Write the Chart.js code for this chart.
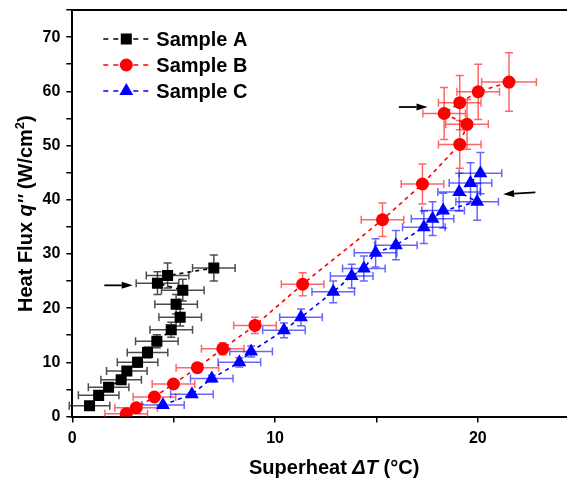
<!DOCTYPE html>
<html>
<head>
<meta charset="utf-8">
<script src="https://cdn.jsdelivr.net/npm/chart.js@4.4.1/dist/chart.umd.min.js"></script>
<style>
  html, body { margin: 0; padding: 0; background: #fff; }
  #wrap { width: 567px; height: 479px; }
</style>
</head>
<body>
<div id="wrap"><canvas id="boilingChart" width="567" height="479"></canvas></div>
<script>
// Sample A (black squares)
const xA = [0.85, 1.3, 1.79, 2.41, 2.69, 3.22, 3.71, 4.17, 4.88, 5.32, 5.12, 5.45, 4.2, 4.7, 6.98];
const yA = [2.0, 3.9, 5.4, 6.8, 8.4, 10.0, 11.8, 13.9, 16.0, 18.3, 20.7, 23.3, 24.6, 26.0, 27.4];
const xErrA = [1.0, 1.0, 1.0, 1.0, 1.0, 1.0, 1.0, 1.05, 1.05, 1.05, 1.05, 1.05, 1.05, 1.05, 1.05];
const yErrA = [0.2, 0.35, 0.5, 0.6, 0.75, 0.9, 1.0, 1.2, 1.4, 1.6, 1.8, 2.0, 2.1, 2.3, 2.4];

// Sample B (red circles)
const xB = [2.66, 3.15, 4.05, 4.99, 6.17, 7.42, 9.01, 11.36, 15.3, 17.27, 19.11, 19.47, 18.34, 19.11, 20.02, 21.54];
const yB = [0.5, 1.6, 3.6, 6.0, 9.0, 12.5, 16.8, 24.4, 36.3, 42.9, 50.2, 53.9, 55.9, 57.9, 59.9, 61.7];
const xErrB = [1.05, 1.05, 1.05, 1.05, 1.05, 1.05, 1.05, 1.05, 1.05, 1.05, 1.05, 1.05, 1.05, 1.05, 1.05, 1.35];
const yErrB = [0.1, 0.2, 0.35, 0.5, 0.8, 1.1, 1.5, 2.1, 3.1, 3.7, 4.4, 4.6, 4.8, 5.0, 5.1, 5.4];

// Sample C (blue triangles)
const xC = [4.47, 5.9, 6.88, 8.24, 8.82, 10.44, 11.28, 12.87, 13.78, 14.38, 14.96, 15.96, 17.34, 17.77, 18.29, 19.97, 19.08, 19.64, 20.13];
const yC = [2.1, 4.1, 7.0, 10.0, 12.0, 15.9, 18.3, 23.0, 25.9, 27.3, 30.2, 31.6, 34.9, 36.5, 38.0, 39.6, 41.4, 43.1, 44.9];
const xErrC = [1.05, 1.05, 1.05, 1.05, 1.05, 1.05, 1.05, 1.05, 1.05, 1.05, 1.05, 1.05, 1.05, 1.05, 1.05, 1.05, 1.05, 1.05, 1.05];
const yErrC = [0.2, 0.35, 0.6, 0.85, 1.0, 1.35, 1.55, 2.0, 2.2, 2.3, 2.6, 2.7, 3.0, 3.1, 3.2, 3.4, 3.5, 3.7, 3.8];

const seriesNames = ['Sample A', 'Sample B', 'Sample C'];

// axis ranges and ticks
const xMin = 0, xMax = 24.4, xStep = 5;
const yMin = 0, yMax = 75, yStep = 5;
const xLabelEvery = 10, yLabelEvery = 10;

// annotation arrows [fromX, fromY, toX, toY] in data units
const arrows = [
    [1.58, 24.2, 2.98, 24.2],
    [16.11, 57.1, 17.52, 57.1],
    [22.84, 41.37, 21.25, 41.0]
];

const FONT = "'Liberation Sans', Arial, sans-serif";

const toPoints = (xs, ys) => xs.map((x, i) => ({ x: x, y: ys[i] }));

const makeSet = (label, xs, ys, xe, ye, color, errColor, style, radius) => ({
    label: label,
    data: toPoints(xs, ys),
    xErr: xe,
    yErr: ye,
    errColor: errColor,
    showLine: true,
    borderColor: color,
    backgroundColor: color,
    borderWidth: 1.6,
    borderDash: [4, 4],
    pointStyle: style,
    pointRadius: radius,
    pointHoverRadius: radius,
    pointBorderWidth: 0,
    tension: 0
});

// error bars drawn under the markers
const errorBars = {
    id: 'errorBars',
    beforeDatasetsDraw(chart) {
        const ctx = chart.ctx;
        const xs = chart.scales.x, ys = chart.scales.y;
        const cap = 4;
        ctx.save();
        ctx.lineWidth = 1.5;
        chart.data.datasets.forEach((ds) => {
            ctx.strokeStyle = ds.errColor;
            ds.data.forEach((p, i) => {
                const px = xs.getPixelForValue(p.x);
                const py = ys.getPixelForValue(p.y);
                const x1 = xs.getPixelForValue(p.x - ds.xErr[i]);
                const x2 = xs.getPixelForValue(p.x + ds.xErr[i]);
                const y1 = ys.getPixelForValue(p.y - ds.yErr[i]);
                const y2 = ys.getPixelForValue(p.y + ds.yErr[i]);
                ctx.beginPath();
                ctx.moveTo(x1, py); ctx.lineTo(x2, py);
                ctx.moveTo(x1, py - cap); ctx.lineTo(x1, py + cap);
                ctx.moveTo(x2, py - cap); ctx.lineTo(x2, py + cap);
                ctx.moveTo(px, y1); ctx.lineTo(px, y2);
                ctx.moveTo(px - cap, y1); ctx.lineTo(px + cap, y1);
                ctx.moveTo(px - cap, y2); ctx.lineTo(px + cap, y2);
                ctx.stroke();
            });
        });
        ctx.restore();
    }
};

// top frame, arrows, legend and axis titles
const decorations = {
    id: 'decorations',
    afterDraw(chart) {
        const ctx = chart.ctx;
        const area = chart.chartArea;
        const xs = chart.scales.x, ys = chart.scales.y;
        ctx.save();

        // top frame line
        ctx.strokeStyle = '#000';
        ctx.lineWidth = 2;
        ctx.beginPath();
        ctx.moveTo(area.left - 1, area.top);
        ctx.lineTo(area.right, area.top);
        ctx.stroke();

        // arrows
        arrows.forEach((a) => {
            const x1 = xs.getPixelForValue(a[0]), y1 = ys.getPixelForValue(a[1]);
            const x2 = xs.getPixelForValue(a[2]), y2 = ys.getPixelForValue(a[3]);
            const ang = Math.atan2(y2 - y1, x2 - x1);
            const hl = 11, hw = 3.5;
            const bx = x2 - Math.cos(ang) * hl, by = y2 - Math.sin(ang) * hl;
            ctx.strokeStyle = '#000';
            ctx.fillStyle = '#000';
            ctx.lineWidth = 1.8;
            ctx.beginPath();
            ctx.moveTo(x1, y1);
            ctx.lineTo(bx, by);
            ctx.stroke();
            ctx.beginPath();
            ctx.moveTo(x2, y2);
            ctx.lineTo(bx - Math.sin(ang) * hw, by + Math.cos(ang) * hw);
            ctx.lineTo(bx + Math.sin(ang) * hw, by - Math.cos(ang) * hw);
            ctx.closePath();
            ctx.fill();
        });

        // legend
        const lx = area.left + 31, ly = area.top + 29, rowH = 26;
        chart.data.datasets.forEach((ds, i) => {
            const y = ly + i * rowH;
            ctx.strokeStyle = ds.borderColor;
            ctx.lineWidth = 1.6;
            ctx.setLineDash([5, 5]);
            ctx.beginPath();
            ctx.moveTo(lx, y);
            ctx.lineTo(lx + 46, y);
            ctx.stroke();
            ctx.setLineDash([]);
            ctx.fillStyle = ds.backgroundColor;
            Chart.helpers.drawPoint(ctx, { pointStyle: ds.pointStyle, radius: ds.pointRadius, rotation: 0, borderWidth: 0 }, lx + 23, y);
            ctx.fillStyle = '#000';
            ctx.font = 'bold 20px ' + FONT;
            ctx.textBaseline = 'middle';
            ctx.textAlign = 'left';
            ctx.fillText(ds.label, lx + 53, y + 1);
        });

        // x axis title: Superheat ΔT (°C)
        ctx.fillStyle = '#000';
        ctx.textBaseline = 'alphabetic';
        ctx.textAlign = 'left';
        const xParts = [['Superheat ', 'bold'], ['\u0394T', 'italic bold'], [' (\u00b0C)', 'bold']];
        let tx = 249;
        const tyBase = 474;
        xParts.forEach((p) => {
            ctx.font = p[1] + ' 20px ' + FONT;
            ctx.fillText(p[0], tx, tyBase);
            tx += ctx.measureText(p[0]).width;
        });

        // y axis title: Heat Flux q'' (W/cm²)
        ctx.translate(32, 312);
        ctx.rotate(-Math.PI / 2);
        const yParts = [['Heat Flux ', 'bold', 20, 0], ["q''", 'italic bold', 20, 0], [' (W/cm', 'bold', 20, 0], ['2', 'bold', 13, -8], [')', 'bold', 20, 0]];
        let ty = 0;
        yParts.forEach((p) => {
            ctx.font = p[1] + ' ' + p[2] + 'px ' + FONT;
            ctx.fillText(p[0], ty, p[3]);
            ty += ctx.measureText(p[0]).width;
        });
        ctx.restore();
    }
};

const keepSteps = (step) => (scale) => {
    scale.ticks = scale.ticks.filter((t) => Math.abs(t.value / step - Math.round(t.value / step)) < 1e-6);
};

new Chart(document.getElementById('boilingChart').getContext('2d'), {
    type: 'scatter',
    plugins: [errorBars, decorations],
    data: {
        datasets: [
            makeSet(seriesNames[0], xA, yA, xErrA, yErrA, '#000000', 'rgba(0, 0, 0, 0.7)', 'rect', 7.8),
            makeSet(seriesNames[1], xB, yB, xErrB, yErrB, '#ff0000', 'rgba(255, 0, 0, 0.6)', 'circle', 6.5),
            makeSet(seriesNames[2], xC, yC, xErrC, yErrC, '#0000ff', 'rgba(0, 0, 255, 0.6)', 'triangle', 8)
        ]
    },
    options: {
        responsive: false,
        animation: false,
        layout: { autoPadding: false, padding: { top: 10, right: 0, left: 0, bottom: 0 } },
        plugins: {
            legend: { display: false },
            tooltip: { enabled: false }
        },
        scales: {
            x: {
                type: 'linear',
                min: xMin,
                max: xMax,
                afterBuildTicks: keepSteps(xStep),
                afterFit: (scale) => { scale.height = 62.5; scale.paddingLeft = 0; scale.paddingRight = 0; },
                border: { display: true, color: '#000', width: 2 },
                grid: { drawOnChartArea: false, drawTicks: true, tickLength: 6, color: '#000', lineWidth: 1.5 },
                ticks: {
                    stepSize: xStep,
                    padding: 6,
                    color: '#000',
                    font: { family: FONT, weight: 'bold', size: 16 },
                    maxRotation: 0,
                    autoSkip: false,
                    callback: (v) => (v % xLabelEvery === 0 ? String(v) : '')
                },
                title: { display: false }
            },
            y: {
                type: 'linear',
                min: yMin,
                max: yMax,
                afterBuildTicks: keepSteps(yStep),
                afterFit: (scale) => { scale.width = 72.3; scale.paddingTop = 0; scale.paddingBottom = 0; },
                border: { display: true, color: '#000', width: 2 },
                grid: { drawOnChartArea: false, drawTicks: true, tickLength: 6, color: '#000', lineWidth: 1.5 },
                ticks: {
                    stepSize: yStep,
                    padding: 6,
                    color: '#000',
                    font: { family: FONT, weight: 'bold', size: 16 },
                    autoSkip: false,
                    callback: (v) => (v % yLabelEvery === 0 ? String(v) : '')
                },
                title: { display: false }
            }
        }
    }
});
</script>
</body>
</html>
